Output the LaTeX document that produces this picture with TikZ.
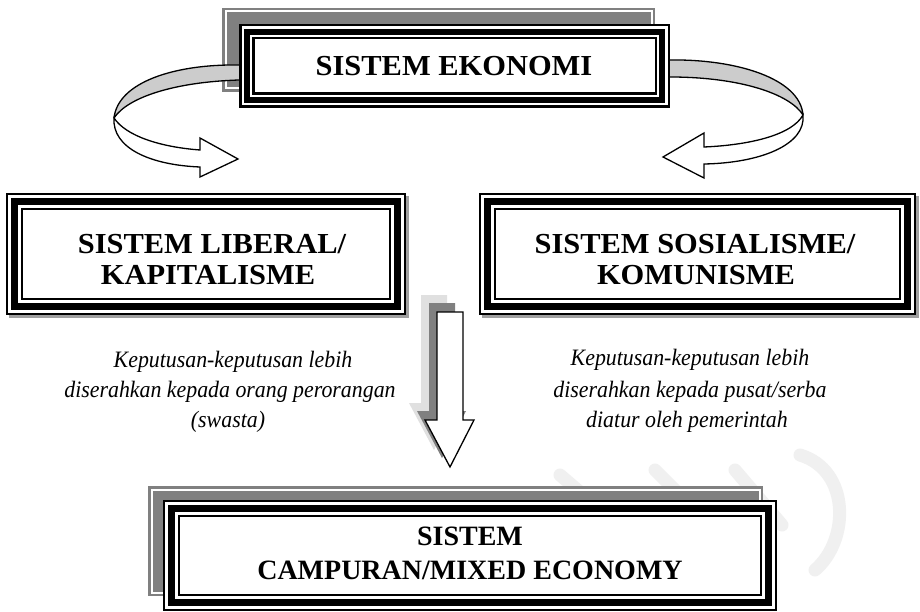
\documentclass[tikz,border=0pt]{standalone}
\usepackage{fontspec}
\setmainfont{Liberation Serif}
\newfontfamily\boxfont{Liberation Serif}[FakeStretch=1.05]
\newfontfamily\notefont{Liberation Serif}[FakeStretch=0.93]
\definecolor{shgray}{HTML}{808080}
\definecolor{ltgray}{HTML}{E0E0E0}
\definecolor{bandgray}{HTML}{CCCCCC}
\definecolor{wmgray}{HTML}{F0F0F0}
\definecolor{edgegray}{HTML}{A0A0A0}
\newcommand\layerframe[5]{\foreach \d/\c in {#5}{\fill[\c] ({#1+\d},{#2+\d}) rectangle ({#3-\d},{#4-\d});}}
\begin{document}
\begin{tikzpicture}[x=1pt,y=-1pt,
  boxtxt/.style={font=\boxfont\bfseries\fontsize{29}{32}\selectfont, anchor=base, inner sep=0pt},
  lowtxt/.style={font=\setmainfont{Liberation Serif}\bfseries\fontsize{28}{31}\selectfont, anchor=base, inner sep=0pt},
  note/.style={font=\notefont\itshape\fontsize{23.5}{26}\selectfont, anchor=base, inner sep=0pt},
  band/.style={fill=bandgray, draw=black, line width=1.3pt, line join=round},
  whitearrow/.style={fill=white, draw=black, line width=1.3pt, line join=miter},
  wmark/.style={draw=wmgray, line width=13pt, line cap=round}]
\useasboundingbox (0,0) rectangle (920,612);
\fill[white] (0,0) rectangle (920,612);
% watermark
\draw[wmark] (560,475) -- (595,505);
\draw[wmark] (655,470) -- (700,515);
\draw[wmark] (735,470) -- (782,525);
\draw[wmark] (800,455) .. controls (850,470) and (850,540) .. (815,570);
% down arrow with shadows
\foreach \s/\c in {{(-16,-17)}/ltgray,{(-8,-9)}/shgray}{
  \fill[\c, shift=\s] (437,312) -- (463,312) -- (463,420) -- (474,420) -- (450,467) -- (425,420) -- (437,420) -- cycle;}
\draw[whitearrow] (437,312) -- (463,312) -- (463,420) -- (474,420) -- (450,467) -- (425,420) -- (437,420) -- cycle;
% top box shadow
\layerframe{222}{8}{655}{92}{0/shgray,2.5/white,4.5/shgray}
% curved arrows
\draw[band] (246,65) -- (239,65) .. controls (175,64) and (118,82) .. (114,118) .. controls (128,97) and (175,82) .. (239,80) -- (246,80) -- cycle;
\draw[whitearrow] (114,118) .. controls (126,136) and (160,147) .. (200,150) -- (200,138) -- (238,159) -- (200,177) -- (200,167) .. controls (150,165) and (112,148) .. (114,118) -- cycle;
\draw[band] (663,60) -- (670,60) .. controls (735,59) and (800,78) .. (803,115) .. controls (790,94) and (740,77) .. (670,77) -- (663,77) -- cycle;
\draw[whitearrow] (803,115) .. controls (792,135) and (750,145) .. (704,147) -- (704,133) -- (663,157) -- (704,178) -- (704,164) .. controls (760,163) and (806,145) .. (803,115) -- cycle;
% top box
\layerframe{239}{24}{670}{108}{0/black,2.5/white,5/black,11/white,13/black,15.5/white}
\node[boxtxt] (top) at (454,76) {SISTEM EKONOMI};
% left box
\fill[edgegray] (9,196) rectangle (409,318);
\layerframe{6}{193}{406}{315}{0/black,2/white,5/black,12/white,15/black,17/white}
\node[boxtxt] (lib1) at (212,253) {SISTEM LIBERAL/};
\node[boxtxt] (lib2) at (208,284) {KAPITALISME};
% right box
\fill[edgegray] (482,196) rectangle (919,318);
\layerframe{479}{193}{916}{315}{0/black,2/white,5/black,12/white,15/black,17/white}
\node[boxtxt] (sos1) at (695,253) {SISTEM SOSIALISME/};
\node[boxtxt] (sos2) at (696,284) {KOMUNISME};
% notes
\node[note] (nl1) at (233,367) {Keputusan-keputusan lebih};
\node[note] (nl2) at (230,397) {diserahkan kepada orang perorangan};
\node[note] (nl3) at (228,427) {(swasta)};
\node[note] (nr1) at (690,365) {Keputusan-keputusan lebih};
\node[note] (nr2) at (690,397) {diserahkan kepada pusat/serba};
\node[note] (nr3) at (687,427) {diatur oleh pemerintah};
% bottom box
\layerframe{148}{486}{763}{596}{0/shgray,2.5/white,4.5/shgray}
\layerframe{163}{500}{777}{611}{0/black,2/white,5/black,12/white,15/black,17/white}
\node[lowtxt] (mix1) at (470,545) {SISTEM};
\node[lowtxt] (mix2) at (470,579) {CAMPURAN/MIXED ECONOMY};
\end{tikzpicture}
\end{document}
